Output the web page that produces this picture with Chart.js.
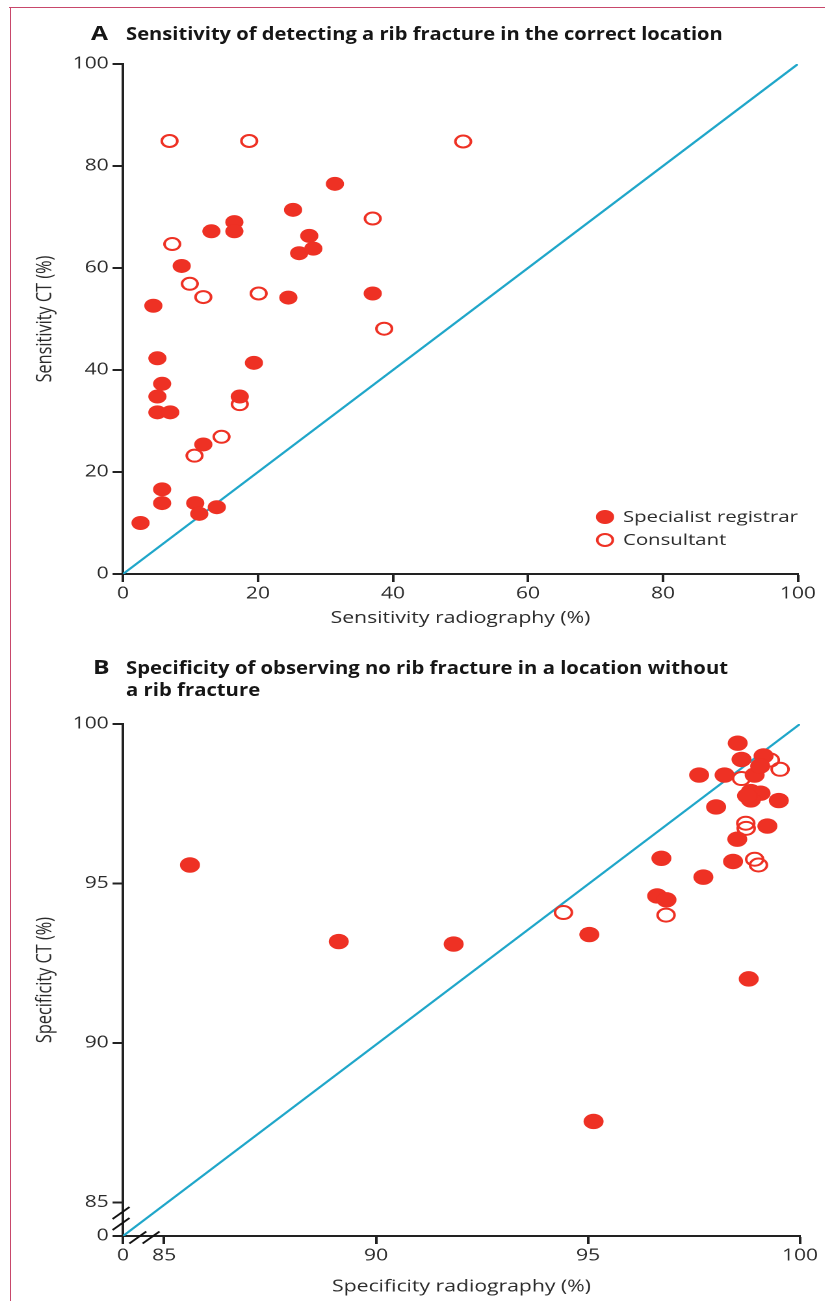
<!DOCTYPE html>
<html>
<head>
<meta charset="utf-8">
<script src="https://cdn.jsdelivr.net/npm/chart.js@4.4.1/dist/chart.umd.min.js"></script>
<style>
  html, body { margin: 0; padding: 0; background: #ffffff; }
  body { width: 825px; height: 1301px; overflow: hidden; position: relative; }
  #frameTop { position: absolute; left: 9px; top: 6.5px; width: 816px; height: 0; border-top: 1.3px solid #c8476b; }
  #frameLeft { position: absolute; left: 10px; top: 6.5px; width: 0; height: 1295px; border-left: 1.3px solid #c8476b; }
  #wrap { position: absolute; left: 0; top: 0; width: 635px; height: 1301px; transform: scaleX(1.3); transform-origin: 0 0; }
  canvas { position: absolute; left: 0; }
  .ttl { position: absolute; font-family: 'Open Sans', sans-serif; font-weight: 700; color: #161616; white-space: nowrap; transform-origin: 0 50%; }
</style>
</head>
<body>
<div id="frameTop"></div>
<div id="frameLeft"></div>
<div id="wrap">
  <canvas id="cA" width="635" height="640" style="top:0px"></canvas>
  <canvas id="cB" width="635" height="661" style="top:640px"></canvas>
  <div class="ttl" id="labA">A</div>
  <div class="ttl" id="ttlA">Sensitivity of detecting a rib fracture in the correct location</div>
  <div class="ttl" id="labB">B</div>
  <div class="ttl" id="ttlB1">Specificity of observing no rib fracture in a location without</div>
  <div class="ttl" id="ttlB2">a rib fracture</div>
</div>
<script>
// ---------------- DATA ----------------
// Panel A: sensitivity (%) — x: radiography, y: CT
const regA_x = [2.6, 4.5, 5.1, 5.1, 5.1, 5.8, 5.8, 5.8, 7.0, 8.7, 10.7, 11.3, 11.9, 13.1, 13.9, 16.5, 16.5, 17.3, 19.4, 24.5, 25.2, 26.1, 27.6, 28.2, 31.4, 37.0];
const regA_y = [10.0, 52.6, 42.3, 34.8, 31.7, 37.3, 16.6, 13.9, 31.7, 60.4, 13.9, 11.8, 25.4, 67.2, 13.1, 69.0, 67.2, 34.8, 41.4, 54.2, 71.4, 62.9, 66.3, 63.8, 76.5, 55.0];
const conA_x = [6.9, 18.7, 50.4, 37.0, 7.3, 9.9, 11.9, 20.1, 38.7, 17.3, 14.6, 10.6];
const conA_y = [84.9, 84.9, 84.8, 69.7, 64.7, 56.9, 54.3, 55.0, 48.1, 33.3, 26.9, 23.2];
const ticksA = [0, 20, 40, 60, 80, 100];
const lineA = [[0, 0], [100, 100]];

// Panel B: specificity (%) — x: radiography, y: CT (axes broken below 85)
const regB_x = [85.61, 89.12, 91.83, 95.03, 95.13, 96.73, 96.63, 96.85, 97.72, 97.62, 98.02, 98.22, 98.42, 98.52, 98.53, 98.62, 98.93, 98.84, 99.07, 98.84, 98.75, 99.14, 99.06, 99.23, 99.50, 98.79];
const regB_y = [95.58, 93.18, 93.10, 93.40, 87.54, 95.79, 94.61, 94.49, 95.20, 98.40, 97.40, 98.40, 95.69, 96.39, 99.40, 98.89, 98.40, 97.88, 97.83, 97.62, 97.75, 99.00, 98.68, 96.80, 97.60, 92.01];
const conB_x = [94.42, 96.84, 98.62, 98.72, 98.73, 98.93, 99.02, 99.30, 99.53];
const conB_y = [94.09, 94.01, 98.29, 96.89, 96.73, 95.76, 95.58, 98.87, 98.58];
const ticksB = [85, 90, 95, 100];
const originB = [84.03, 83.95];   // axis break: the origin is labelled "0"
const lineB = [[84.03, 83.95], [100, 100]];

const seriesNames = ['Specialist registrar', 'Consultant'];
const titleA = 'Sensitivity of detecting a rib fracture in the correct location';
const titleB = ['Specificity of observing no rib fracture in a location without', 'a rib fracture'];
const axisA = ['Sensitivity radiography (%)', 'Sensitivity CT (%)'];
const axisB = ['Specificity radiography (%)', 'Specificity CT (%)'];

// ---------------- STYLE / LAYOUT ----------------
const RED = '#ee3124', CYAN = '#1fa6c9', AX = '#222222', TXT = '#2b2b2b';
const FAMILY = "'Open Sans', sans-serif";
const W = 635;

const mc = document.createElement('canvas').getContext('2d');
function measure(text, weight, size) {
  mc.font = weight + ' ' + size + 'px ' + FAMILY;
  return mc.measureText(text).width;
}
function fit(text, weight, target) {
  return 100 * target / measure(text, weight, 100);
}
function place(id, left, baseline, size, targetWidth) {
  const el = document.getElementById(id);
  const L = Math.round(size * 1.4);
  el.style.fontSize = size + 'px';
  el.style.lineHeight = L + 'px';
  el.style.left = left + 'px';
  el.style.top = (baseline - ((L - 1.362 * size) / 2 + 1.069 * size)) + 'px';
  if (targetWidth) {
    const k = targetWidth / measure(el.textContent, 700, size);
    el.style.transform = 'scaleX(' + k + ')';
  }
}
const TS = 17.2;
place('labA', 70, 40.5, 19);
place('ttlA', 96.7, 40.5, TS, 459);
place('labB', 71.5, 674.5, 19);
place('ttlB1', 97.4, 675, TS, 463);
place('ttlB2', 97.4, 697, TS, 463 * measure(titleB[1], 700, TS) / measure(titleB[0], 700, TS));

const axisSize = fit(axisA[0], 400, 200);
const legendSize = fit(seriesNames[0], 400, 134.6);
const tickFont = { family: FAMILY, size: 16.2 };
const axisFont = { family: FAMILY, size: axisSize };

const zip = (xs, ys) => xs.map((x, i) => ({ x: x, y: ys[i] }));
const pts = arr => arr.map(p => ({ x: p[0], y: p[1] }));

function datasets(rx, ry, cx, cy, line, r1, r2) {
  return [
    { label: seriesNames[0], data: zip(rx, ry), backgroundColor: RED, borderColor: RED, borderWidth: 0,
      pointRadius: r1, pointHoverRadius: r1, order: 1 },
    { label: seriesNames[1], data: zip(cx, cy), backgroundColor: 'rgba(255,255,255,0)', borderColor: RED, borderWidth: 2,
      pointRadius: r2, pointHoverRadius: r2, order: 2 },
    { type: 'line', label: 'line of identity', data: pts(line), borderColor: CYAN, borderWidth: 2,
      pointRadius: 0, showLine: true, tension: 0, fill: false, order: 3 }
  ];
}

function axis(min, max, ticks, title, isX, sizeFix, titlePad, labelFn) {
  return {
    type: 'linear', min: min, max: max,
    afterBuildTicks: ax => { ax.ticks = ticks.map(v => ({ value: v })); },
    afterFit: s => { if (isX) s.height = sizeFix; else s.width = sizeFix; },
    grid: { drawOnChartArea: false, drawTicks: true, tickLength: 8, tickWidth: 2, tickColor: AX, color: AX },
    border: { display: true, color: AX, width: 2 },
    ticks: { font: tickFont, color: TXT, padding: isX ? 2 : 3, maxRotation: 0, autoSkip: false,
      callback: labelFn || (v => String(v)) },
    title: { display: true, text: title, font: axisFont, color: TXT, padding: titlePad }
  };
}

// legend drawn inside the plot area of panel A
const insideLegend = {
  id: 'insideLegend',
  afterDatasetsDraw(chart, args, opts) {
    if (!opts || !opts.show) return;
    const ctx = chart.ctx, a = chart.chartArea;
    ctx.save();
    ctx.font = legendSize + 'px ' + FAMILY;
    ctx.textBaseline = 'middle';
    ctx.fillStyle = TXT;
    const rows = [{ y: a.bottom - 57, ds: chart.data.datasets[0] }, { y: a.bottom - 34, ds: chart.data.datasets[1] }];
    const mx = a.right - 148.4, tx = a.right - 134.6;
    rows.forEach(r => {
      ctx.beginPath();
      ctx.arc(mx, r.y, r.ds.pointRadius, 0, Math.PI * 2);
      if (r.ds.borderWidth > 0) { ctx.lineWidth = r.ds.borderWidth; ctx.strokeStyle = r.ds.borderColor; ctx.stroke(); }
      else { ctx.fillStyle = r.ds.backgroundColor; ctx.fill(); }
      ctx.fillStyle = TXT;
      ctx.fillText(r.ds.label, tx, r.y + 0.5);
    });
    ctx.restore();
  }
};

// axis-break marks for panel B
const breakMarks = {
  id: 'breakMarks',
  afterDraw(chart, args, opts) {
    if (!opts || !opts.show) return;
    const ctx = chart.ctx, a = chart.chartArea;
    ctx.save();
    ctx.strokeStyle = '#111';
    ctx.lineWidth = 1.7;
    const seg = (cx, cy) => { ctx.beginPath(); ctx.moveTo(cx - 6.5, cy + 6); ctx.lineTo(cx + 6.5, cy - 6); ctx.stroke(); };
    seg(a.left - 1.5, a.bottom - 23);
    seg(a.left - 1.5, a.bottom - 12);
    seg(a.left + 11.4, a.bottom + 1.5);
    seg(a.left + 21.6, a.bottom + 1.5);
    ctx.restore();
  }
};

const base = {
  responsive: false, animation: false, devicePixelRatio: 2,
  events: [],
};

new Chart(document.getElementById('cA'), {
  type: 'scatter',
  data: { datasets: datasets(regA_x, regA_y, conA_x, conA_y, lineA, 7, 6) },
  options: Object.assign({}, base, {
    layout: { padding: { left: 0, top: 64, right: W - 613.8, bottom: 0 } },
    plugins: { legend: { display: false }, tooltip: { enabled: false }, insideLegend: { show: true } },
    scales: {
      x: axis(0, 100, ticksA, axisA[0], true, 66, { top: 0, bottom: 12 }),
      y: axis(0, 100, ticksA, axisA[1], false, 94.6, { top: 25, bottom: 0 })
    }
  }),
  plugins: [insideLegend]
});

const zeroAtOrigin = min => (v => (v === min ? '0' : String(v)));
new Chart(document.getElementById('cB'), {
  type: 'scatter',
  data: { datasets: datasets(regB_x, regB_y, conB_x, conB_y, lineB, 7.7, 6.5) },
  options: Object.assign({}, base, {
    layout: { padding: { left: 0, top: 84, right: W - 615.4, bottom: 0 } },
    plugins: { legend: { display: false }, tooltip: { enabled: false }, breakMarks: { show: true } },
    scales: {
      x: axis(originB[0], 100, [originB[0]].concat(ticksB), axisB[0], true, 65, { top: 0, bottom: 4.5 }, zeroAtOrigin(originB[0])),
      y: axis(originB[1], 100, [originB[1]].concat(ticksB), axisB[1], false, 94.6, { top: 25, bottom: 0 }, zeroAtOrigin(originB[1]))
    }
  }),
  plugins: [breakMarks]
});
</script>
</body>
</html>
